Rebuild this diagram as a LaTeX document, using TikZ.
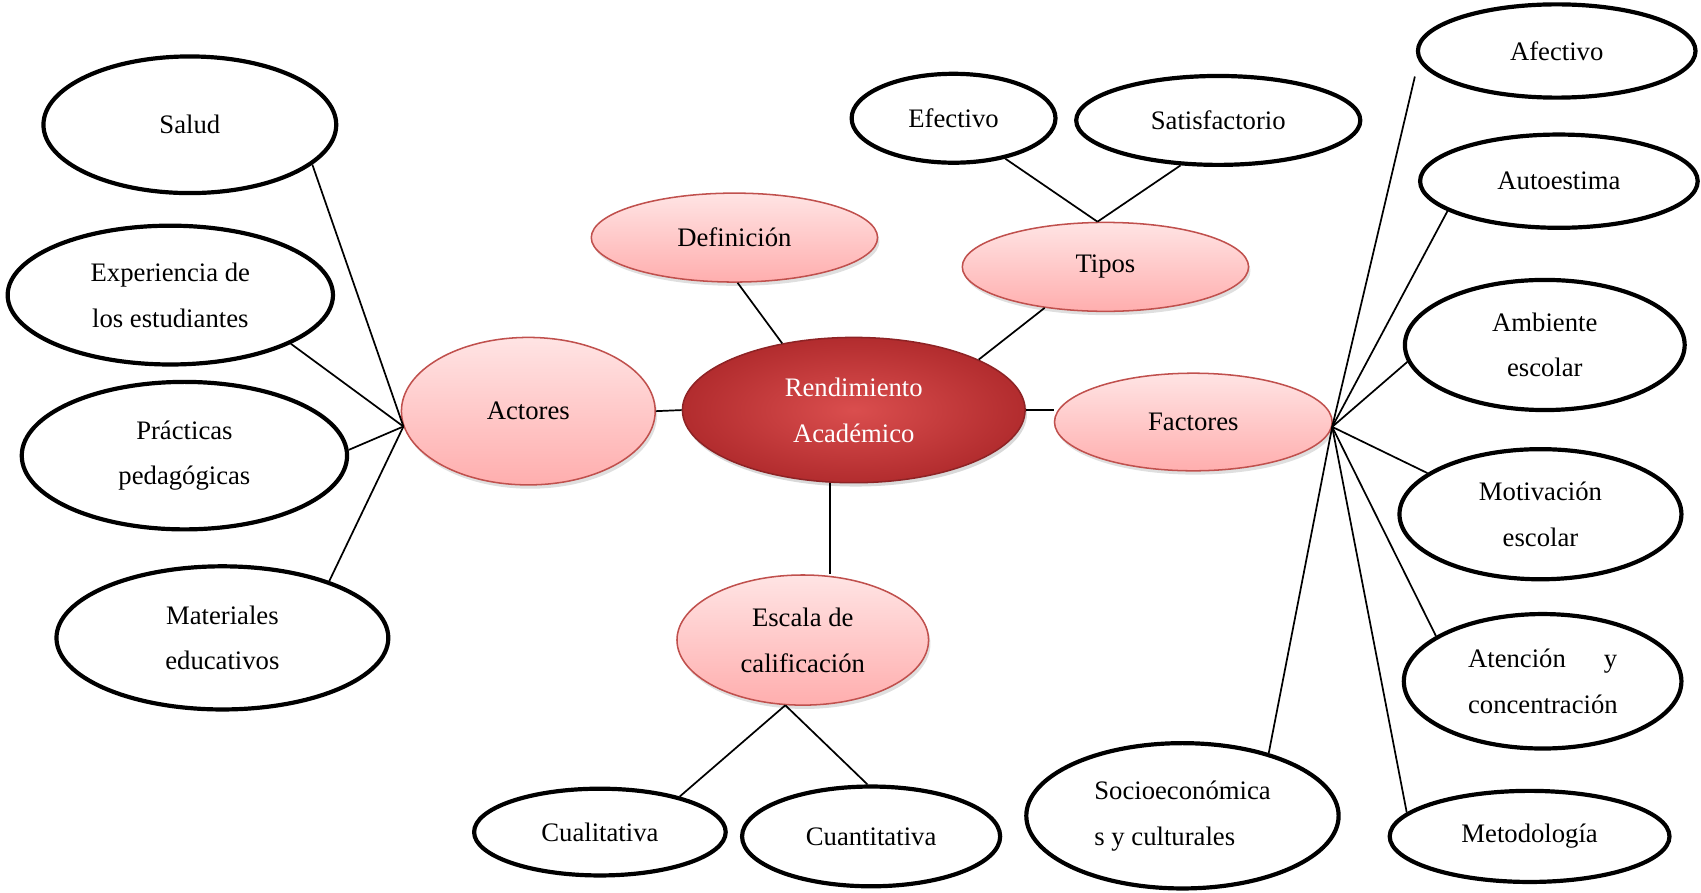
\documentclass[tikz,border=0pt]{standalone}
\usepackage{fontspec}
\setmainfont{Liberation Serif}
\usetikzlibrary{shapes.geometric,shadows}

\definecolor{rosa}{RGB}{255,228,228}
\definecolor{rosaosc}{RGB}{255,174,174}
\definecolor{borde}{RGB}{192,80,77}
\definecolor{rojo}{RGB}{218,78,78}
\definecolor{rojoosc}{RGB}{178,44,46}

\begin{document}
\begin{tikzpicture}[x=0.02cm, y=-0.02cm,
  font=\fontsize{14}{24}\selectfont,
  rad/.style 2 args={minimum width=#1*0.04cm, minimum height=#2*0.04cm},
  hoja/.style={draw, ellipse, line width=2.2pt, fill=white, inner sep=0pt, align=center},
  tema/.style={draw=borde, ellipse, line width=0.8pt, top color=rosa, bottom color=rosaosc,
    inner sep=0pt, align=center, drop shadow={shadow xshift=1pt, shadow yshift=-2pt, opacity=0.25}},
  centro/.style={draw=rojoosc!80!black, ellipse, line width=0.8pt, inner color=rojo, outer color=rojoosc,
    text=white, inner sep=0pt, align=center, drop shadow={shadow xshift=1pt, shadow yshift=-2pt, opacity=0.3}},
  enlace/.style={line width=0.9pt}]

\useasboundingbox (0,0) rectangle (1568,823);

\node[centro, rad={158}{67}] (ren) at (787,378) {Rendimiento\\Académico};

\node[tema, rad={132}{41}] (def) at (677,219) {Definición};
\node[tema, rad={132}{41}] (tip) at (1019,246) {Tipos};
\node[tema, rad={117}{68}] (act) at (487,379) {Actores};
\node[tema, rad={128}{45}] (fac) at (1100,389) {Factores};
\node[tema, rad={116}{60}] (esc) at (740,590) {Escala de\\calificación};

\node[hoja, rad={135}{63}] (sal) at (175,115) {Salud};
\node[hoja, rad={150}{64}] (exp) at (157,272) {Experiencia de\\los estudiantes};
\node[hoja, rad={150}{68}] (pra) at (170,420) {Prácticas\\pedagógicas};
\node[hoja, rad={153}{66}] (mat) at (205,588) {Materiales\\educativos};

\node[hoja, rad={94}{41}] (efe) at (879,109) {Efectivo};
\node[hoja, rad={131}{41}] (sat) at (1123,111) {Satisfactorio};

\node[hoja, rad={116}{40}] (cua) at (553,767) {Cualitativa};
\node[hoja, rad={119}{46}] (cun) at (803,771) {Cuantitativa};

\node[hoja, rad={144}{67}, text width=3.25cm, align=flush left] (soc) at (1090,752) {Socioeconómica\\s y culturales};
\node[hoja, rad={128}{43}] (afe) at (1435,47) {Afectivo};
\node[hoja, rad={128}{43}] (aut) at (1437,167) {Autoestima};
\node[hoja, rad={129}{60}] (amb) at (1424,318) {Ambiente\\escolar};
\node[hoja, rad={130}{60}] (mot) at (1420,474) {Motivación\\escolar};
\node[hoja, rad={128}{62}, text width=2.75cm, align=flush left] (ate) at (1422,628) {Atención\hfill y\\concentración};
\node[hoja, rad={129}{42}] (met) at (1410,771) {Metodología};

\coordinate (pa) at (act.187);
\coordinate (pf) at (fac.-2);
\coordinate (pt) at (tip.100);
\coordinate (pe) at (esc.-105);

\draw[enlace] (ren.137) -- (def.-86);
\draw[enlace] (ren.22) -- (tip.-146);
\draw[enlace] (act.east) -- (ren.west);
\draw[enlace] (ren.east) -- (ren.east -| fac.west);
\draw[enlace] (ren.-108) -- (ren.-108 |- esc.north);

\draw[enlace] (pt) -- (efe.-38);
\draw[enlace] (pt) -- (sat.-130);
\draw[enlace] (pe) -- (cua.24);
\draw[enlace] (pe) -- (cun.94);

\draw[enlace] (pa) -- (sal.-18);
\draw[enlace] (pa) -- (exp.-22);
\draw[enlace] (pa) -- (pra.2);
\draw[enlace] (pa) -- (mat.28);

\draw[enlace, shorten >=0.3cm] (pf) -- (afe.-176);
\draw[enlace] (pf) -- (aut.-165);
\draw[enlace] (pf) -- (amb.-173);
\draw[enlace] (pf) -- (mot.160);
\draw[enlace] (pf) -- (ate.157);
\draw[enlace] (pf) -- (met.169);
\draw[enlace] (pf) -- (soc.36);

\end{tikzpicture}
\end{document}
